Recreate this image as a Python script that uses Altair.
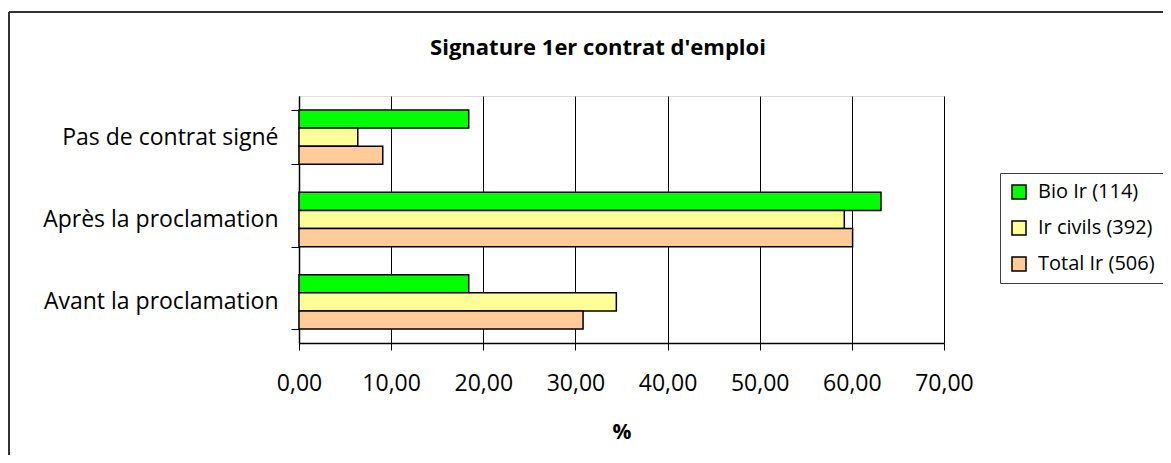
import altair as alt
import pandas as pd

categories = ["Pas de contrat signé", "Après la proclamation", "Avant la proclamation"]
series = ["Bio Ir (114)", "Ir civils (392)", "Total Ir (506)"]
bio = [18.42, 63.16, 18.42]
civils = [6.38, 59.18, 34.44]
total = [9.09, 60.08, 30.83]
colors = ["#00FF00", "#FFFF99", "#FFCC99"]
x_ticks = [0, 10, 20, 30, 40, 50, 60, 70]
title_text = "Signature 1er contrat d'emploi"

rows = []
for s, vals in zip(series, [bio, civils, total]):
    for c, v in zip(categories, vals):
        rows.append({"cat": c, "serie": s, "val": v})
df = pd.DataFrame(rows)

FONT = "Open Sans"

bars = alt.Chart(df).mark_bar(stroke="black", strokeWidth=1.5).encode(
    x=alt.X(
        "val:Q",
        scale=alt.Scale(domain=[0, 70], nice=False, zero=True),
        axis=alt.Axis(
            values=x_ticks,
            labelExpr="replace(format(datum.value, '.2f'), '.', ',')",
            title="%",
            grid=True, gridColor="black", gridWidth=1, gridOpacity=1,
            domainColor="black", domainWidth=1.5,
            tickColor="black", tickSize=7, tickWidth=1,
            labelFontSize=23, labelPadding=22, labelColor="black", labelFont=FONT,
            labelFlush=False, labelOverlap=False,
            titleFontSize=21, titleFontWeight="bold", titlePadding=26,
            titleColor="black", titleFont=FONT,
        ),
    ),
    y=alt.Y(
        "cat:N", sort=categories,
        scale=alt.Scale(paddingInner=0.34, paddingOuter=0.17),
        axis=alt.Axis(
            title=None, tickBand="extent", grid=False,
            domainColor="black", domainWidth=1.5,
            tickColor="black", tickSize=8, tickWidth=1,
            labelFontSize=23, labelPadding=13, labelColor="black", labelFont=FONT,
            labelLimit=400,
        ),
    ),
    yOffset=alt.YOffset("serie:N", sort=series,
                        scale=alt.Scale(paddingInner=0, paddingOuter=0)),
    color=alt.Color(
        "serie:N", sort=series,
        scale=alt.Scale(domain=series, range=colors),
        legend=alt.Legend(
            title=None, orient="none", legendX=701, legendY=77,
            fillColor="white", strokeColor="#404040", padding=9,
            symbolType="square", symbolSize=196, symbolStrokeColor="black",
            symbolStrokeWidth=1.5, symbolOpacity=1,
            labelFontSize=20, labelOffset=9, rowPadding=16,
            labelColor="black", labelFont=FONT, labelLimit=300,
        ),
    ),
)

one = pd.DataFrame({"k": [0]})
frame_top = alt.Chart(one).mark_rule(color="#333333", strokeWidth=2).encode(
    x=alt.value(-290), x2=alt.value(880), y=alt.value(-84)
)
frame_left = alt.Chart(one).mark_rule(color="#333333", strokeWidth=2).encode(
    x=alt.value(-290), y=alt.value(-84), y2=alt.value(400)
)
title = alt.Chart(one).mark_text(
    font=FONT, fontSize=22, fontWeight="bold", color="black",
    align="center", baseline="alphabetic",
).encode(x=alt.value(299), y=alt.value(-41), text=alt.value(title_text))

chart = alt.layer(bars, frame_top, frame_left, title).properties(
    width=645,
    height=247,
    autosize=alt.AutoSizeParams(type="none"),
    padding={"left": 291, "top": 88, "right": 219, "bottom": 112},
).configure_view(
    fill="#C0C0C0", stroke="#808080", strokeWidth=1.5
).configure(background="white")

chart.save("out.html", embed_options={"renderer": "svg", "actions": False})
